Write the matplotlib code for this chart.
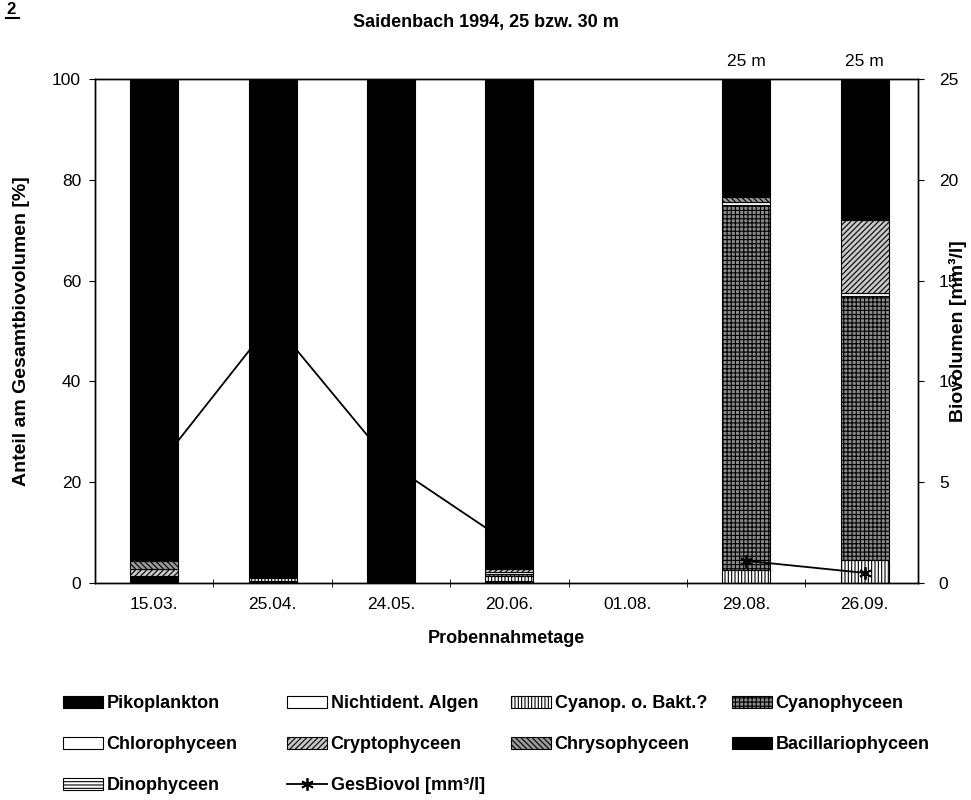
import matplotlib
matplotlib.use("Agg")
from matplotlib import pyplot as plt
from matplotlib.lines import Line2D
from matplotlib.patches import Patch
import numpy as np

plt.rcParams['font.family'] = ['Liberation Sans', 'DejaVu Sans']
plt.rcParams['hatch.linewidth'] = 0.8

dates = ['15.03.', '25.04.', '24.05.', '20.06.', '01.08.', '29.08.', '26.09.']

# Anteile am Gesamtbiovolumen in %, von unten nach oben gestapelt
piko = [1.4, 0.3, 0.0, 0.3, 0.0, 0.0, 0.0]
nichtident = [0.0, 0.0, 0.0, 0.0, 0.0, 0.0, 0.0]
cyanop_bakt = [0.0, 0.7, 0.0, 1.0, 0.0, 2.5, 4.5]
cyanophyceen = [0.0, 0.0, 0.0, 0.5, 0.0, 72.5, 52.5]
chlorophyceen = [0.0, 0.0, 0.0, 0.3, 0.0, 0.6, 0.5]
cryptophyceen = [1.4, 0.0, 0.0, 0.6, 0.0, 0.0, 14.5]
chrysophyceen = [1.6, 0.0, 0.0, 0.0, 0.0, 1.0, 0.0]
bacillario = [95.6, 99.0, 100.0, 97.3, 0.0, 23.4, 28.0]
dinophyceen = [0.0, 0.0, 0.0, 0.0, 0.0, 0.0, 0.0]

# Gesamtbiovolumen in mm³/l (01.08. ohne Wert)
ges_biovol = [5.55, 13.0, 5.9, 1.95, np.nan, 1.1, 0.5]

tiefe_labels = {5: '25 m', 6: '25 m'}

groups = [
    ('Pikoplankton', piko, dict(facecolor='black', hatch=None)),
    ('Nichtident. Algen', nichtident, dict(facecolor='white', hatch=None)),
    ('Cyanop. o. Bakt.?', cyanop_bakt, dict(facecolor='white', hatch='|||||')),
    ('Cyanophyceen', cyanophyceen, dict(facecolor='#8a8a8a', hatch='++++')),
    ('Chlorophyceen', chlorophyceen, dict(facecolor='white', hatch=None)),
    ('Cryptophyceen', cryptophyceen, dict(facecolor='#c8c8c8', hatch='//////')),
    ('Chrysophyceen', chrysophyceen, dict(facecolor='#9a9a9a', hatch='\\\\\\\\\\\\')),
    ('Bacillariophyceen', bacillario, dict(facecolor='black', hatch=None)),
    ('Dinophyceen', dinophyceen, dict(facecolor='white', hatch='-----')),
]

fig = plt.figure(figsize=(9.71, 8), dpi=100)
ax = fig.add_axes([0.0978, 0.27125, 0.8476, 0.63])
ax2 = ax.twinx()

x = np.arange(len(dates))
bottom = np.zeros(len(dates))
handles = {}
for name, vals, style in groups:
    vals = np.array(vals)
    # Nullwerte nicht zeichnen, sonst bleiben Randlinien stehen
    lw = np.where(vals > 0, 0.8, 0.0)
    ax.bar(x, vals, 0.405, bottom=bottom, edgecolor='black',
           linewidth=lw, **style)
    handles[name] = Patch(edgecolor='black', linewidth=0.8, **style)
    bottom += vals

ln, = ax2.plot(x, ges_biovol, color='black', lw=1.3, marker=(6, 2, 0),
               markersize=9, markeredgewidth=1.3)
handles['GesBiovol [mm³/l]'] = ln

ax.set_xlim(-0.5, len(dates) - 0.55)
ax.set_ylim(0, 100)
ax2.set_ylim(0, 25)
ax.set_yticks(np.arange(0, 101, 20))
ax2.set_yticks(np.arange(0, 26, 5))

ax.set_xticks(x)
ax.set_xticklabels(dates, fontsize=12.5)
ax.set_xticks(x[:-1] + 0.5, minor=True)
ax.tick_params(axis='x', which='major', length=0, pad=10)
ax.tick_params(axis='x', which='minor', length=6, direction='inout')
ax.tick_params(axis='y', labelsize=12.5, length=4, pad=6)
ax2.tick_params(axis='y', labelsize=12.5, length=4, pad=11)

for spine in list(ax.spines.values()) + list(ax2.spines.values()):
    spine.set_linewidth(1.0)

ax.set_xlabel('Probennahmetage', fontsize=13, fontweight='bold', labelpad=13)
ax.set_ylabel('Anteil am Gesamtbiovolumen [%]', fontsize=14,
              fontweight='bold', va='center')
ax.yaxis.set_label_coords(-0.0887, 0.5)
ax2.set_ylabel('Biovolumen [mm³/l]', fontsize=14, fontweight='bold',
               va='center')
ax2.yaxis.set_label_coords(1.0486, 0.5)

for i, txt in tiefe_labels.items():
    ax.text(x[i], 102, txt, ha='center', va='bottom', fontsize=12.5)

fig.text(0.5, 1 - 22 / 800, 'Saidenbach 1994, 25 bzw. 30 m', ha='center',
         va='center', fontsize=13, fontweight='bold')

# Abbildungsnummer oben links
fig.text(0.007, 1 - 14 / 800, '2', ha='left', va='baseline', fontsize=12,
         fontweight='bold')
fig.add_artist(Line2D([0.006, 0.020], [1 - 18 / 800] * 2, color='black', lw=1.5))

# Legende spaltenweise mit festen Spaltenbreiten
legend_cols = [['Pikoplankton', 'Chlorophyceen', 'Dinophyceen'],
               ['Nichtident. Algen', 'Cryptophyceen', 'GesBiovol [mm³/l]'],
               ['Cyanop. o. Bakt.?', 'Chrysophyceen'],
               ['Cyanophyceen', 'Bacillariophyceen']]
col_x = [63, 287, 511, 732]
for names, cx in zip(legend_cols, col_x):
    fig.legend([handles[n] for n in names], names, loc='upper left',
               bbox_to_anchor=(cx / 971, 0.131), frameon=False, borderpad=0,
               borderaxespad=0, handlelength=2.2, handleheight=0.66,
               handletextpad=0.22, labelspacing=1.33,
               prop={'size': 13, 'weight': 'bold'})

plt.savefig('out.png', dpi=100)
